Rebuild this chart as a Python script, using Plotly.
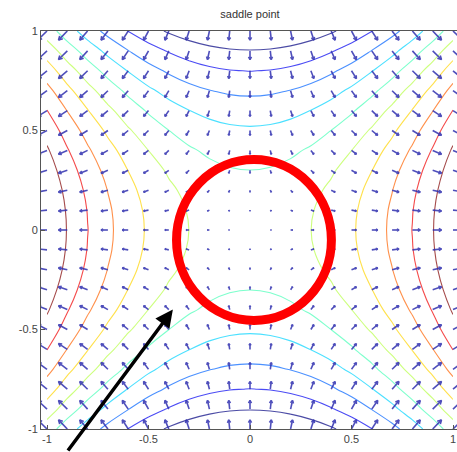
import plotly.graph_objects as go
from plotly.figure_factory import create_quiver

# ---- data ----
grid = [-1.0, -0.9, -0.8, -0.7, -0.6, -0.5, -0.4, -0.3, -0.2, -0.1, 0.0,
        0.1, 0.2, 0.3, 0.4, 0.5, 0.6, 0.7, 0.8, 0.9, 1.0]
# squared coordinate terms of the saddle surface (x^2 and y^2 along the grid)
sq_terms = [1.0, 0.81, 0.64, 0.49, 0.36, 0.25, 0.16, 0.09, 0.04, 0.01, 0.0,
            0.01, 0.04, 0.09, 0.16, 0.25, 0.36, 0.49, 0.64, 0.81, 1.0]
# gradient components (per column for u, per row for v)
grad_u_by_col = [-1.9, -1.8, -1.6, -1.4, -1.2, -1.0, -0.8, -0.6, -0.4, -0.2, 0.0,
                 0.2, 0.4, 0.6, 0.8, 1.0, 1.2, 1.4, 1.6, 1.8, 1.9]
grad_v_by_row = [1.9, 1.8, 1.6, 1.4, 1.2, 1.0, 0.8, 0.6, 0.4, 0.2, 0.0,
                 -0.2, -0.4, -0.6, -0.8, -1.0, -1.2, -1.4, -1.6, -1.8, -1.9]
level_start, level_end, level_step = -0.8182, 0.8182, 0.1818
title_text = "saddle point"
tick_vals = [-1, -0.5, 0, 0.5, 1]
tick_text = ["-1", "-0.5", "0", "0.5", "1"]

# surface table built from the arrays
z = [[sq_terms[j] - sq_terms[i] for j in range(len(grid))] for i in range(len(grid))]

qx, qy, qu, qv = [], [], [], []
for i, yv in enumerate(grid):
    for j, xv in enumerate(grid):
        qx.append(xv); qy.append(yv)
        qu.append(grad_u_by_col[j]); qv.append(grad_v_by_row[i])

quiv = create_quiver(qx, qy, qu, qv, scale=0.024, arrow_scale=0.35,
                     angle=0.5, line=dict(color="#3030b0", width=1.6))

matlab_jet = [[0.0, "rgb(0,0,128)"], [0.125, "rgb(0,0,255)"], [0.375, "rgb(0,255,255)"],
              [0.625, "rgb(255,255,0)"], [0.875, "rgb(255,0,0)"], [1.0, "rgb(128,0,0)"]]

fig = go.Figure()
fig.add_trace(go.Contour(
    x=grid, y=grid, z=z, zmin=-1, zmax=1,
    contours=dict(coloring="lines", start=level_start, end=level_end, size=level_step),
    colorscale=matlab_jet, showscale=False, line=dict(width=1.1), opacity=0.7,
    hoverinfo="skip"))
for tr in quiv.data:
    tr.showlegend = False
    tr.opacity = 0.85
    fig.add_trace(tr)

# red circle highlight
fig.add_shape(type="circle", xref="x", yref="y", x0=-0.362, x1=0.401, y0=-0.455, y1=0.354,
              line=dict(color="#ff0000", width=9))
# black pointer arrow
fig.add_annotation(x=-0.38, y=-0.40, xref="x", yref="y", ax=-106, ay=150,
                   axref="pixel", ayref="pixel", text="", showarrow=True,
                   arrowhead=2, arrowsize=1.0, arrowwidth=3.5, arrowcolor="#000000")

axis_common = dict(ticks="inside", ticklen=4, tickcolor="#555", showgrid=False,
                   zeroline=False, showline=True, linecolor="#555", linewidth=1,
                   tickvals=tick_vals, ticktext=tick_text,
                   tickfont=dict(family="Liberation Sans", size=11, color="#444"))
fig.update_xaxes(range=[-1.0296, 1.0197], mirror=True, **axis_common)
fig.update_yaxes(range=[-1, 1], mirror=False, **axis_common)

fig.update_layout(
    width=457, height=452, margin=dict(l=41, r=0, t=31, b=23),
    paper_bgcolor="white", plot_bgcolor="white",
    title=dict(text=title_text, x=0.547, xanchor="center", y=1 - 14 / 452, yanchor="middle",
               yref="container", font=dict(family="Liberation Sans", size=11, color="#333")),
    showlegend=False,
)
fig.write_html("out.html")
